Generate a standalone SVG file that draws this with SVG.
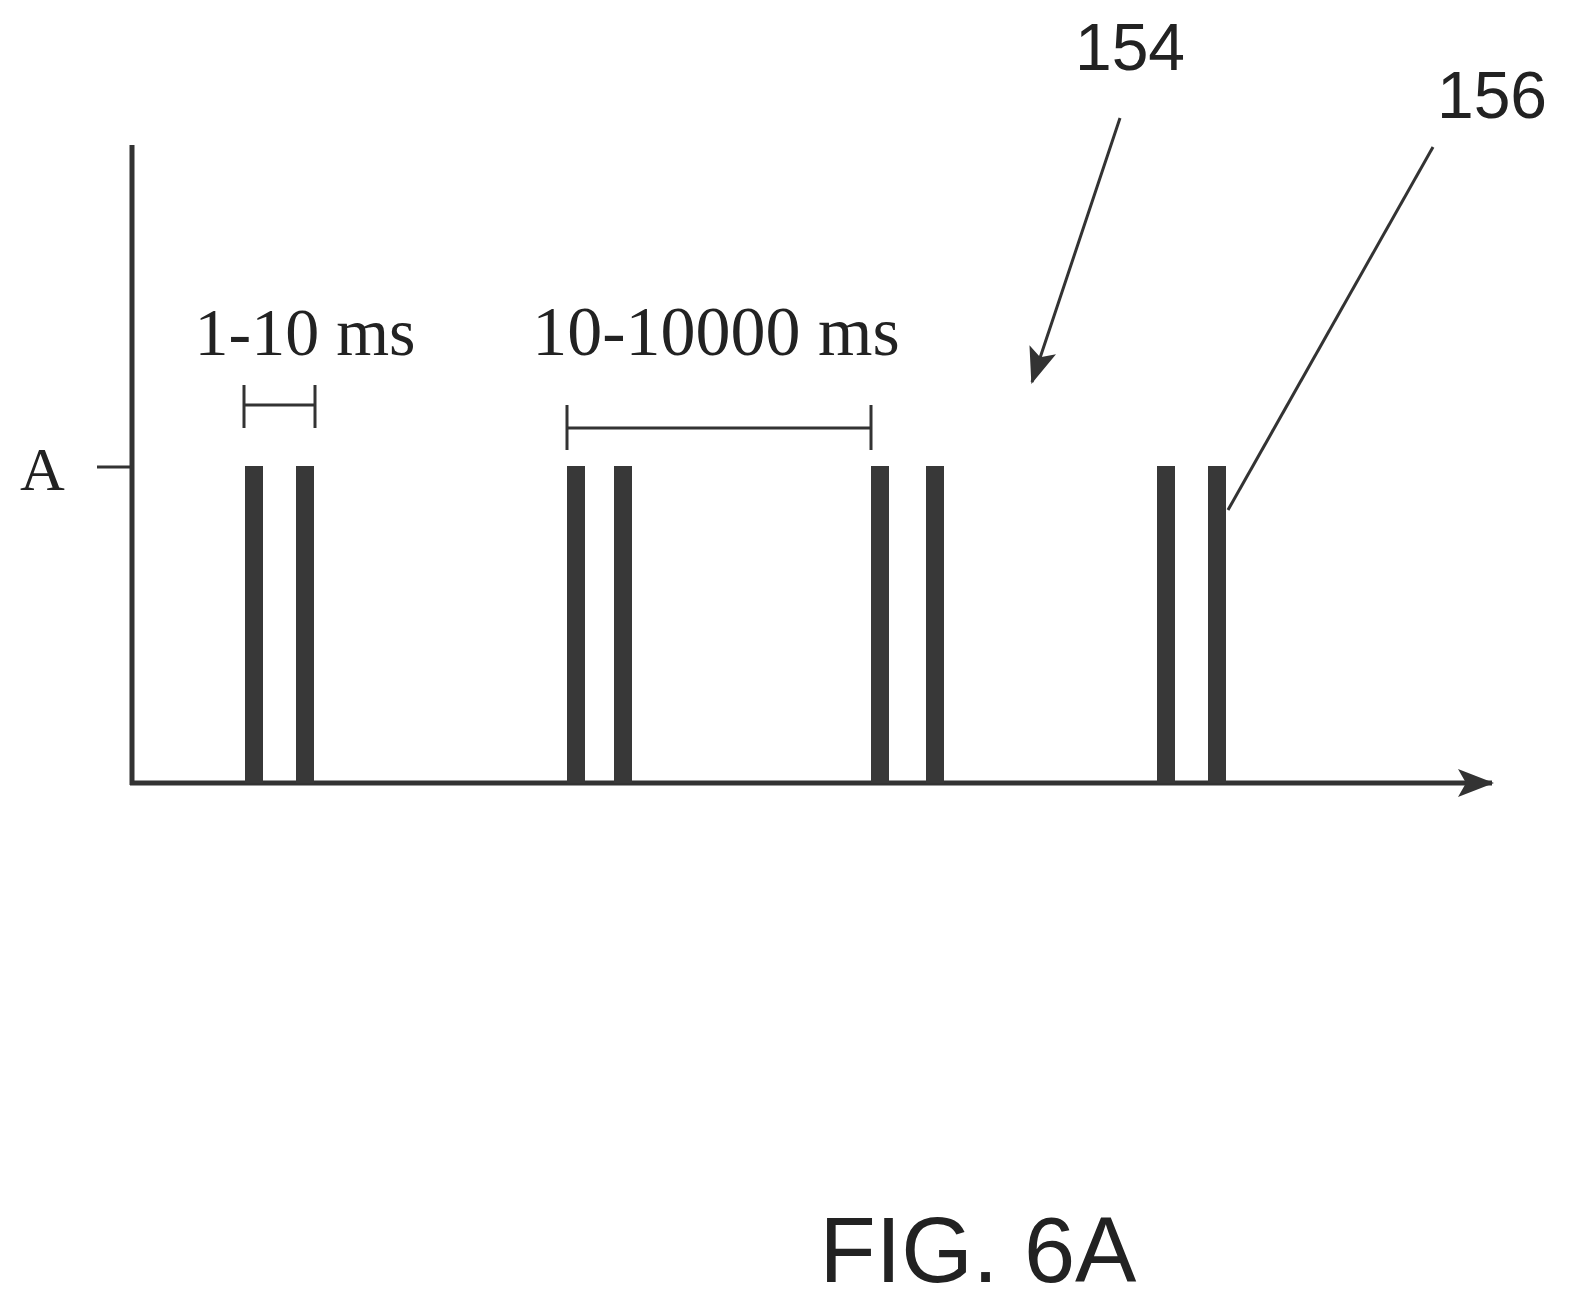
<svg xmlns="http://www.w3.org/2000/svg" width="1578" height="1311" viewBox="0 0 1578 1311">
<style>
.ax{stroke:#333;stroke-width:5;fill:none}
.ln{stroke:#333;stroke-width:3;fill:none}
.p{fill:#383838}
.serif{font-family:"Liberation Serif",serif;fill:#222}
.sans{font-family:"Liberation Sans",sans-serif;fill:#222}
</style>
<defs>
<marker id="ah2" markerWidth="36" markerHeight="28" refX="34" refY="14" orient="auto" markerUnits="userSpaceOnUse" viewBox="0 0 36 28"><path d="M0,0 L36,14 L0,28 L8,14 Z" fill="#333"/></marker>
</defs>
<g id="axes">
<line class="ax" x1="132" y1="145" x2="132" y2="785"/>
<line class="ax" x1="130" y1="783" x2="1492" y2="783" marker-end="url(#ah2)"/>
<line class="ln" x1="97" y1="467" x2="132" y2="467"/>
<text class="serif" x="20" y="490" font-size="62">A</text>
</g>
<g id="pulses">
<rect class="p" x="245" y="466" width="18" height="317"/>
<rect class="p" x="296" y="466" width="18" height="317"/>
<rect class="p" x="567" y="466" width="18" height="317"/>
<rect class="p" x="614" y="466" width="18" height="317"/>
<rect class="p" x="871" y="466" width="18" height="317"/>
<rect class="p" x="926" y="466" width="18" height="317"/>
<rect class="p" x="1157" y="466" width="18" height="317"/>
<rect class="p" x="1208" y="466" width="18" height="317"/>
</g>
<g id="dim1">
<line class="ln" x1="244" y1="405" x2="315" y2="405"/>
<line class="ln" x1="244" y1="385" x2="244" y2="428"/>
<line class="ln" x1="315" y1="385" x2="315" y2="428"/>
<text class="serif" x="305" y="355" font-size="68" text-anchor="middle">1-10 ms</text>
</g>
<g id="dim2">
<line class="ln" x1="567" y1="428" x2="871" y2="428"/>
<line class="ln" x1="567" y1="405" x2="567" y2="450"/>
<line class="ln" x1="871" y1="405" x2="871" y2="450"/>
<text class="serif" x="716" y="355" font-size="70" text-anchor="middle">10-10000 ms</text>
</g>
<g id="connectors">
<line class="ln" x1="1120" y1="118" x2="1032" y2="382" marker-end="url(#ah2)"/>
<line class="ln" x1="1433" y1="147" x2="1228" y2="510"/>
</g>
<g id="labels">
<text class="sans" x="1130" y="70" font-size="66" text-anchor="middle">154</text>
<text class="sans" x="1492" y="118" font-size="66" text-anchor="middle">156</text>
<text class="sans" x="978" y="1282" font-size="92" text-anchor="middle">FIG. 6A</text>
</g>
</svg>
